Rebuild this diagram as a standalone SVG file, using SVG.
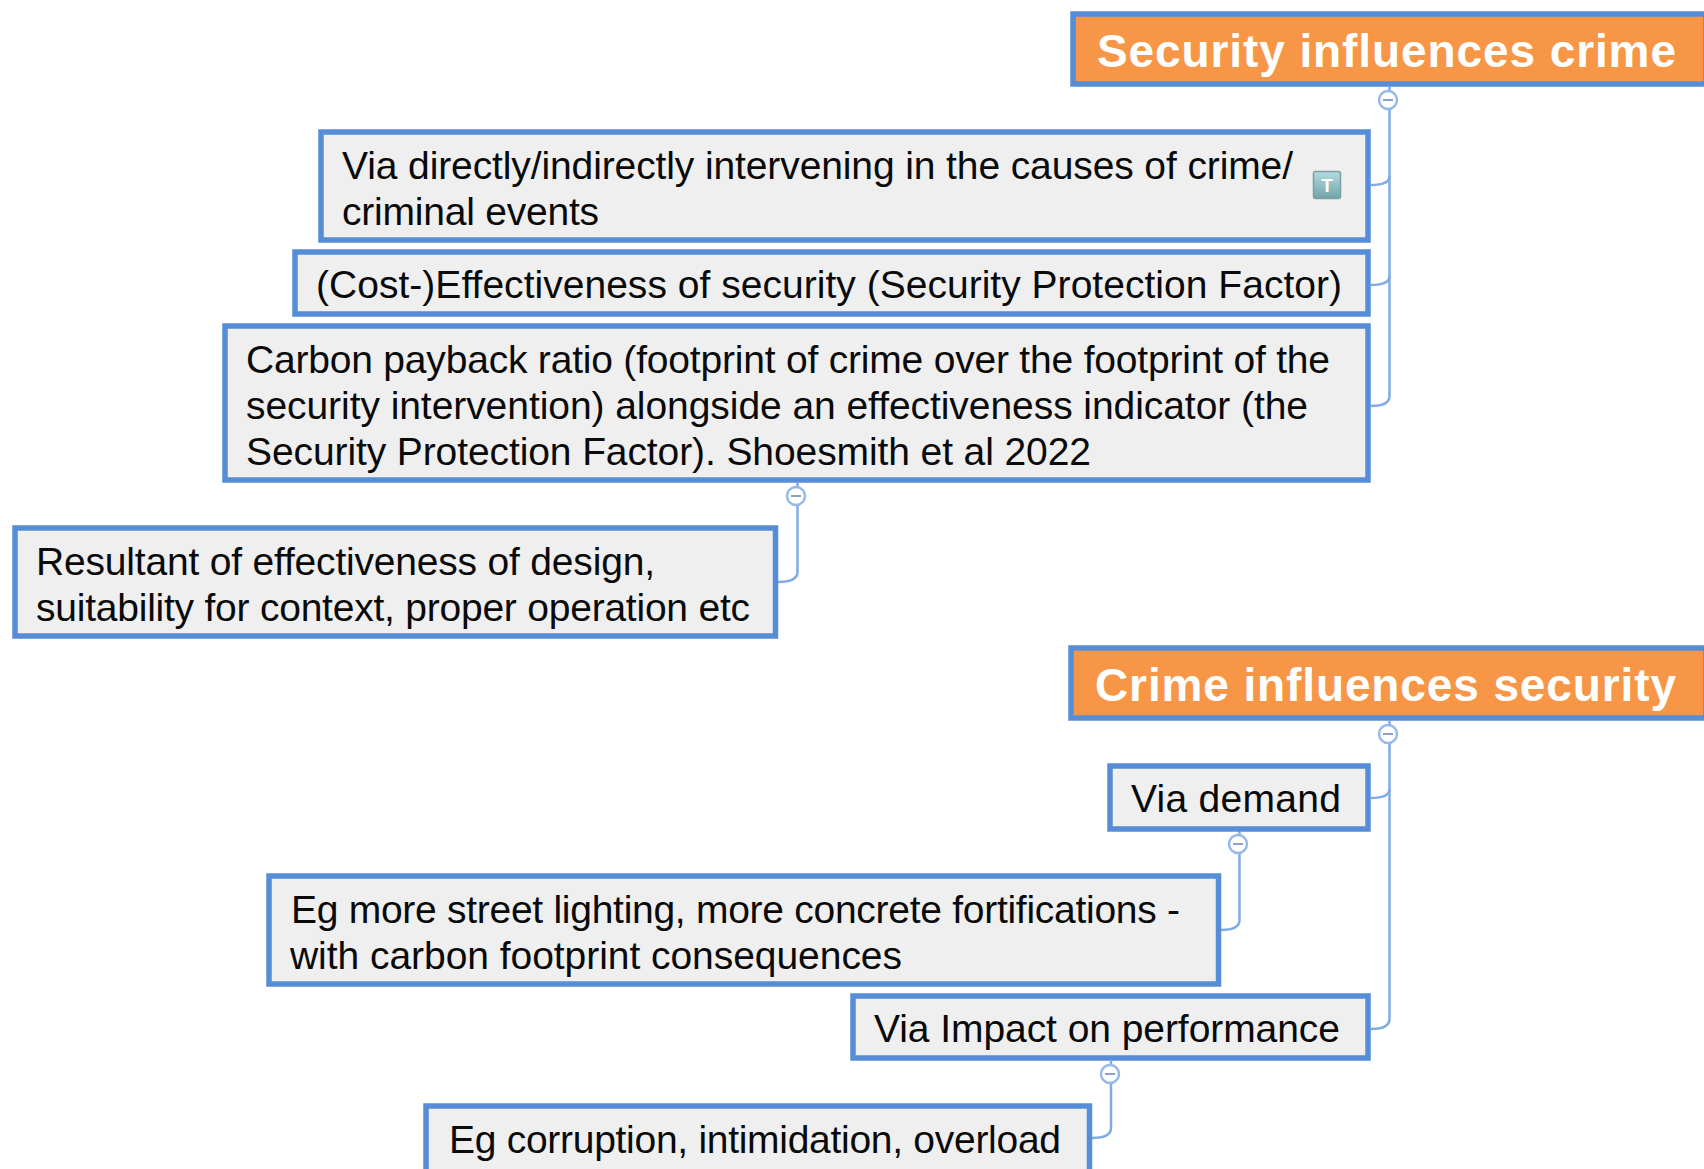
<svg xmlns="http://www.w3.org/2000/svg" width="1704" height="1169" viewBox="0 0 1704 1169">
<defs><linearGradient id="ic" x1="0" y1="0" x2="0" y2="1"><stop offset="0" stop-color="#b4dbe2"/><stop offset="1" stop-color="#6fa3a8"/></linearGradient></defs>
<style>
.n{fill:#efefef;stroke:#568dd6;stroke-width:5.5}
.h{fill:#f79646;stroke:#568dd6;stroke-width:5.5}
.t{font:39px "Liberation Sans",Arial,sans-serif;fill:#0a0a0a}
.w{font:bold 46px "Liberation Sans",Arial,sans-serif;fill:#fff}
.c{fill:none;stroke:#80abe6;stroke-width:2.5}
.k{fill:#fff;stroke:#96b9ea;stroke-width:2.5}
.m{fill:none;stroke:#8f9fd0;stroke-width:2}
</style>
<rect width="1704" height="1169" fill="#fff"/>
<g id="connectors">
<path class="c" d="M1389.5 87V396Q1389.5 406 1371 406"/>
<path class="c" d="M1389.5 176Q1389.5 185 1371 185"/><path class="c" d="M1389.5 276Q1389.5 285 1371 285"/>
<path class="c" d="M797.5 483V572Q797.5 582 778 582"/>
<path class="c" d="M1389.5 721V1019Q1389.5 1029 1371 1029"/>
<path class="c" d="M1389.5 789Q1389.5 798 1371 798"/>
<path class="c" d="M1239.5 831V920Q1239.5 930 1221 930"/>
<path class="c" d="M1111 1061V1128Q1111 1138 1092 1138"/>
<circle class="k" cx="1388" cy="100" r="9"/><circle class="k" cx="796" cy="496" r="9"/><circle class="k" cx="1388" cy="734" r="9"/><circle class="k" cx="1238" cy="844" r="9"/><circle class="k" cx="1110" cy="1074" r="9"/>
<path class="m" d="M1383 100h10M791 496h10M1383 734h10M1233 844h10M1105 1074h10"/>
</g>
<g id="n1"><rect class="h" x="1073" y="14" width="633" height="70"/><text class="w" x="1097" y="67" textLength="579">Security influences crime</text></g>
<g id="n2"><rect class="n" x="321" y="132" width="1047" height="108"/><text class="t" x="342" y="179" textLength="951">Via directly/indirectly intervening in the causes of crime/</text><text class="t" x="342" y="225" textLength="257">criminal events</text><rect x="1313.5" y="171.5" width="27" height="27" rx="2" fill="url(#ic)" stroke="#7e9fa3" stroke-width="1.5"/><text x="1327" y="192" text-anchor="middle" font-family="Liberation Sans" font-weight="bold" font-size="19" fill="#fff">T</text></g>
<g id="n3"><rect class="n" x="295" y="252" width="1073" height="62"/><text class="t" x="316" y="298" textLength="1026">(Cost-)Effectiveness of security (Security Protection Factor)</text></g>
<g id="n4"><rect class="n" x="225" y="326" width="1143" height="154"/><text class="t" x="246" y="373" textLength="1084">Carbon payback ratio (footprint of crime over the footprint of the</text><text class="t" x="246" y="419" textLength="1062">security intervention) alongside an effectiveness indicator (the</text><text class="t" x="246" y="465" textLength="845">Security Protection Factor). Shoesmith et al 2022</text></g>
<g id="n5"><rect class="n" x="15" y="528" width="760.5" height="108"/><text class="t" x="36" y="575" textLength="619">Resultant of effectiveness of design,</text><text class="t" x="36" y="621" textLength="714">suitability for context, proper operation etc</text></g>
<g id="n6"><rect class="h" x="1071" y="648" width="635" height="70"/><text class="w" x="1095" y="701" textLength="581">Crime influences security</text></g>
<g id="n7"><rect class="n" x="1110" y="766" width="258" height="63"/><text class="t" x="1131" y="812" textLength="210">Via demand</text></g>
<g id="n8"><rect class="n" x="269" y="876" width="949.5" height="108"/><text class="t" x="291" y="923" textLength="889">Eg more street lighting, more concrete fortifications -</text><text class="t" x="290" y="969" textLength="612">with carbon footprint consequences</text></g>
<g id="n9"><rect class="n" x="853" y="996" width="515" height="62"/><text class="t" x="874" y="1042" textLength="466">Via Impact on performance</text></g>
<g id="n10"><rect class="n" x="426" y="1106" width="663.5" height="72"/><text class="t" x="449" y="1153" textLength="612">Eg corruption, intimidation, overload</text></g>
</svg>
